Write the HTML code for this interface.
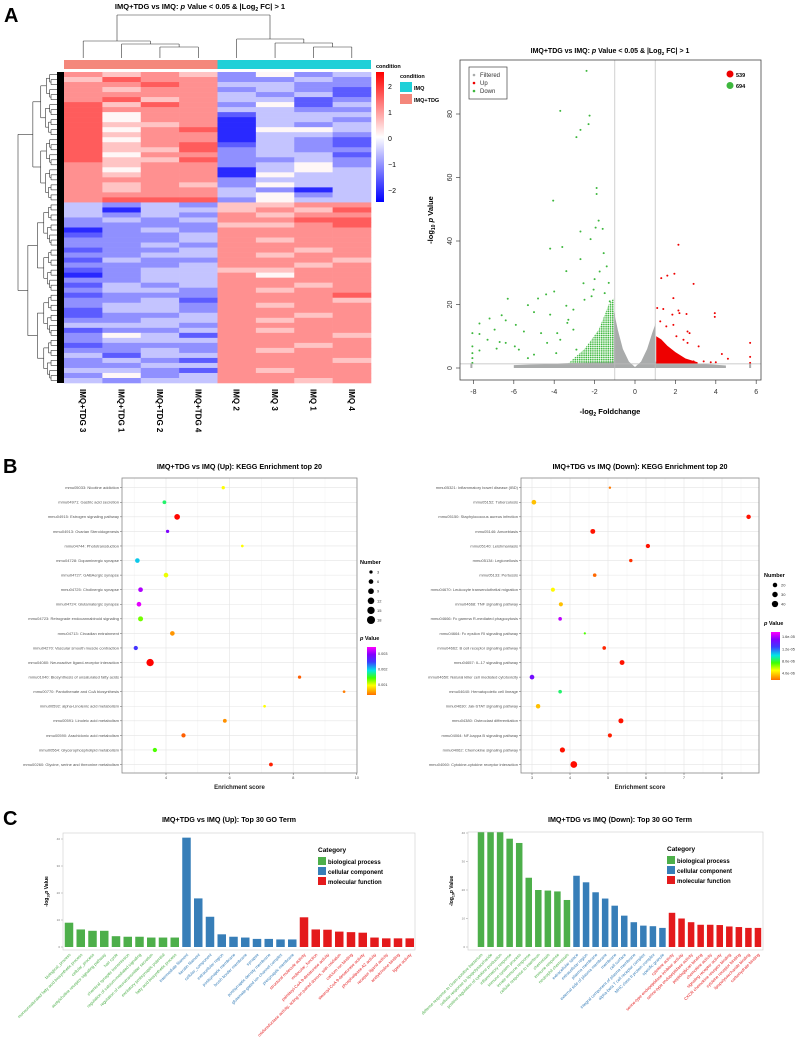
<!DOCTYPE html>
<html><head><meta charset="utf-8"><style>
html,body{margin:0;padding:0;background:#fff;}
svg{display:block;font-family:"Liberation Sans",Arial,sans-serif;}
</style></head><body>
<svg id="fig" width="800" height="1061" viewBox="0 0 800 1061" xmlns="http://www.w3.org/2000/svg">
<defs>
<pattern id="gdots" width="2.2" height="2.2" patternUnits="userSpaceOnUse"><circle cx="1.1" cy="1.1" r="0.85" fill="#3db73d"/></pattern>
</defs>
<rect width="800" height="1061" fill="#fff"/>
<g id="heat"></g>
<g id="volc"></g>
<g id="keggUp"></g>
<g id="keggDown"></g>
<g id="goUp"></g>
<g id="goDown"></g>
<text x="4" y="22" font-size="20" font-weight="bold">A</text>
<text x="3" y="473" font-size="20" font-weight="bold">B</text>
<text x="3" y="825" font-size="20" font-weight="bold">C</text>
</svg>
<script>
// ---------- DATA ----------
const heatColumns = ["IMQ+TDG 3","IMQ+TDG 1","IMQ+TDG 2","IMQ+TDG 4","IMQ 2","IMQ 3","IMQ 1","IMQ 4"];
// each char 0..8 => z-score -2 + 0.5*d
const heatRows = [
"65652423","57662232","66763322","65662321","66663231","67563312","75762413","76663322","74661333","74660332",
"75560323","74670443","75660332","74660321","75671321","75572322","74662331","75572232","65662342","64660343",
"65660433","66662333","65652433","65663203","66663423","67772433",
"32325566","30335657","32326566","23236677","22225567","02326666","12236666","22236566","22326666","12236656",
"22336566","13226665","22236656","12335566","02336466","22336666","13236656","23326566","12226667","22316665",
"23326566","13326666","12236656","22336566","33326666","12236566","24316665","23336666","12226656","22326566",
"31336666","23216665","22336666","33216566","24236666","32336656"];

const volcXTicks = [-8,-6,-4,-2,0,2,4,6];
const volcYTicks = [0,20,40,60,80];
const downX = [-2.4,-3.7,-2.25,-2.3,-2.7,-2.9,-1.9,-1.9,-4.05,-1.8,-2.7,-1.95,-1.6,-2.2,-4.2,-3.6,-3.4,-2.7,-2.55,-6.3,-4.4,-4,-4.8,-5.3,-5,-4.2,-3.4,-6.6,-7.2,-6.4,-7.7,-6.95,-5.9,-5.5,-8.05,-7.7,-7.3,-6.7,-6.4,-6.85,-5.95,-5.75,-7.7,-8.05,-8.05,-8.05,-8.05,-5.3,-5,-4.65,-4.35,-3.9,-3.85,-3.7,-3.35,-3.3,-3.05,-2.9,-3.05,-2.5,-2.15,-2.05,-2,-1.75,-1.55,-1.4,-1.3,-1.5,-1.25];
const downY = [93.6,81,79.5,76.8,75,72.7,56.7,54.8,52.7,46.4,43,44.2,43.8,40.6,37.6,38.1,30.5,34.3,26.7,21.8,23.2,24.1,21.9,19.8,17.6,16.8,19.6,16.6,15.6,15,14,12.1,13.6,11.5,11,10.7,8.9,8.2,7.9,6.1,6.8,5.8,5.5,6.8,4.7,3.1,1.6,3.1,4.2,11,7.9,4.7,11,8.9,14.2,15.2,12.1,5.8,18.4,21.5,22.6,24.7,28,30.4,36.2,32,26.8,23.6,21];
const upX = [2.15,1.3,1.6,1.95,2.9,1.9,1.1,1.4,1.85,2.15,2.2,2.55,3.95,3.95,1.25,1.55,1.9,2.6,2.7,2.05,2.4,2.6,3.15,4.3,4.6,5.7,5.7,5.7,2.9,3.4,3.75,4];
const upY = [38.8,28.3,29.1,29.7,26.5,22,18.9,18.6,16.8,18.1,17.3,17,17.3,16.1,14.7,13.1,13.6,11.5,11,10,8.9,7.9,6.8,4.4,2.9,7.9,3.5,1.6,2.1,2.1,1.8,1.8];
const grayEnvX = [-6,-3,-1.05,-1.05,-0.85,-0.6,-0.3,0,0.3,0.6,0.85,1.02,1.02,3,4.5,4.5,-6];
const grayEnvY = [0.9,1.6,2,18,12,6,2,0.3,2,6,11,14,2,1.5,0.8,0,0];
const greenDenseX = [-3.3,-2.5,-1.8,-1.3,-1.05,-1.05];
const greenDenseY = [1.5,6,12,20,22,1.4];
const redDenseX = [1.05,1.05,1.3,1.6,2,2.5,3.1,3.1];
const redDenseY = [1.4,10,9,7,5,3,1.8,1.4];
const upCount = 539, downCount = 694;

const keggUpTerms = ["mmu05033: Nicotine addiction","mmu04971: Gastric acid secretion","mmu04915: Estrogen signaling pathway","mmu04913: Ovarian Steroidogenesis","mmu04744: Phototransduction","mmu04728: Dopaminergic synapse","mmu04727: GABAergic synapse","mmu04725: Cholinergic synapse","mmu04724: Glutamatergic synapse","mmu04723: Retrograde endocannabinoid signaling","mmu04713: Circadian entrainment","mmu04270: Vascular smooth muscle contraction","mmu04080: Neuroactive ligand-receptor interaction","mmu01040: Biosynthesis of unsaturated fatty acids","mmu00770: Pantothenate and CoA biosynthesis","mmu00592: alpha-Linolenic acid metabolism","mmu00591: Linoleic acid metabolism","mmu00590: Arachidonic acid metabolism","mmu00564: Glycerophospholipid metabolism","mmu00260: Glycine, serine and threonine metabolism"];
const keggUpScore = [5.8,3.95,4.35,4.05,6.4,3.1,4.0,3.2,3.15,3.2,4.2,3.05,3.5,8.2,9.6,7.1,5.85,4.55,3.65,7.3];
const keggUpNumber = [3,4,9,3,2,6,6,6,6,7,6,5,15,3,2,2,4,5,5,4];
const keggUpP = [0.00095,0.00165,0.00002,0.0029,0.00095,0.002,0.001,0.0031,0.0033,0.0013,0.0005,0.0025,0.00001,0.0003,0.0004,0.00095,0.00048,0.0003,0.0014,0.0001];
const keggUpTicks = [4,6,8,10];
const numUpLegend = [3,6,9,12,15,18];
const pUpLegend = [0.001,0.002,0.003];

const keggDownTerms = ["mmu05321: Inflammatory bowel disease (IBD)","mmu05152: Tuberculosis","mmu05150: Staphylococcus aureus infection","mmu05146: Amoebiasis","mmu05140: Leishmaniasis","mmu05134: Legionellosis","mmu05133: Pertussis","mmu04670: Leukocyte transendothelial migration","mmu04668: TNF signaling pathway","mmu04666: Fc gamma R-mediated phagocytosis","mmu04664: Fc epsilon RI signaling pathway","mmu04662: B cell receptor signaling pathway","mmu04657: IL-17 signaling pathway","mmu04650: Natural killer cell mediated cytotoxicity","mmu04640: Hematopoietic cell lineage","mmu04630: Jak-STAT signaling pathway","mmu04380: Osteoclast differentiation","mmu04064: NF-kappa B signaling pathway","mmu04062: Chemokine signaling pathway","mmu04060: Cytokine-cytokine receptor interaction"];
const keggDownScore = [5.05,3.05,8.7,4.6,6.05,5.6,4.65,3.55,3.76,3.74,4.39,4.9,5.37,3.0,3.74,3.16,5.34,5.05,3.8,4.1];
const keggDownNumber = [6,22,20,24,18,12,13,17,17,13,5,13,24,22,13,20,25,17,27,45];
const keggDownP = [0.000002,0.0000035,0.0000003,0.0000003,0.0000003,0.0000008,0.0000017,0.0000048,0.0000035,0.0000162,0.0000072,0.0000006,0.0000003,0.0000145,0.0000085,0.0000035,0.0000003,0.0000005,0.0000003,0.0000002];
const keggDownTicks = [3,4,5,6,7,8];
const numDownLegend = [20,30,40];
const pDownLegend = [0.000004,0.000008,0.000012,0.000016];
const pDownLegendLbl = ["4.0e-06","8.0e-06","1.2e-05","1.6e-05"];

const goUpTerms = ["biological_process","monounsaturated fatty acid biosynthetic process","cellular_process","acetylcholine receptor signaling pathway","hair cycle","chemical synaptic transmission","regulation of calcium-mediated signaling","regulation of neurotransmitter secretion","excitatory postsynaptic potential","fatty acid biosynthetic process",
"intermediate filament","keratin filament","cellular_component","extracellular region","postsynaptic membrane","brush border membrane","synapse","postsynaptic density membrane","glutamate-gated ion channel complex","presynaptic membrane",
"structural molecule activity","molecular_function","palmitoyl-CoA 9-desaturase activity","oxidoreductase activity, acting on paired donors, with oxidation","calcium ion binding","stearoyl-CoA 9-desaturase activity","phospholipase A2 activity","receptor ligand activity","acetylcholine binding","ligase activity"];
const goUpValues = [9,6.5,6,6,4,3.8,3.8,3.5,3.5,3.5, 40.5,18,11.2,4.7,3.8,3.5,3,3,2.8,2.8, 11,6.5,6.4,5.7,5.5,5.3,3.5,3.2,3.2,3.2];
const goDownTerms = ["defense response to Gram-positive bacterium","cellular response to lipopolysaccharide","positive regulation of cytokine production","inflammatory response","immune system process","innate immune response","cellular response to interferon","chemotaxis","immune response","neutrophil chemotaxis",
"extracellular space","extracellular region","plasma membrane","external side of plasma membrane","membrane","cell surface","integral component of plasma membrane","alpha-beta T cell receptor complex","MHC class II protein complex","specific granule",
"cytokine activity","serine-type endopeptidase inhibitor activity","serine-type endopeptidase activity","peptidoglycan binding","chemokine activity","signaling receptor activity","CXCR chemokine receptor binding","cytokine receptor binding","lipopolysaccharide binding","carbohydrate binding"];
const goDownValues = [41,41,41,38,36.5,24.3,20,19.8,19.5,16.5, 25,22.7,19.2,17,14.5,11,8.7,7.5,7.3,6.7, 12,10,8.7,7.8,7.8,7.7,7.2,7,6.7,6.7];
const goCategory = ["biological process","cellular component","molecular function"];
const goTicks = [0,10,20,30,40];

// ---------- HELPERS ----------
const NS="http://www.w3.org/2000/svg";
function mk(parent, tag, attrs, txt){
  const e=document.createElementNS(NS,tag);
  for(const k in attrs) e.setAttribute(k,attrs[k]);
  if(txt!==undefined) e.textContent=txt;
  parent.appendChild(e); return e;
}
const catColors=["#4daf4a","#377eb8","#e41a1c"];
function lerp(a,b,t){return a+(b-a)*t;}
function heatColor(v){
  const t=Math.max(-1,Math.min(1,v/2.2));
  let r,g,b;
  if(t>=0){r=255;g=Math.round(255*(1-t)*0.97+20*t);b=g;} else {b=255;r=Math.round(255*(1+t)*0.97+20*-t);g=r;}
  return `rgb(${r},${g},${b})`;
}
const rainbowStops=[[0,[255,0,0]],[0.12,[255,128,0]],[0.28,[255,255,0]],[0.42,[64,255,0]],[0.56,[0,230,230]],[0.72,[60,60,255]],[0.86,[130,0,255]],[1,[255,0,255]]];
function rainbow(t){
  t=Math.max(0,Math.min(1,t));
  for(let i=1;i<rainbowStops.length;i++){
    if(t<=rainbowStops[i][0]){
      const a=rainbowStops[i-1],b=rainbowStops[i];const u=(t-a[0])/(b[0]-a[0]);
      return `rgb(${Math.round(lerp(a[1][0],b[1][0],u))},${Math.round(lerp(a[1][1],b[1][1],u))},${Math.round(lerp(a[1][2],b[1][2],u))})`;
    }
  }
  return "rgb(255,0,255)";
}

// ---------- HEATMAP ----------
(function(){
  const g=document.getElementById('heat');
  const X0=64,X1=371,Y0=72,Y1=383;
  const cw=(X1-X0)/heatColumns.length, rh=(Y1-Y0)/heatRows.length;
  const title=mk(g,'text',{x:200,y:9,'font-size':7.5,'font-weight':'bold','text-anchor':'middle'});
  
  
  title.innerHTML='IMQ+TDG vs IMQ: <tspan font-style="italic">p</tspan> Value &lt; 0.05 &amp; |Log<tspan font-size="5" dy="2">2</tspan><tspan dy="-2"> FC| &gt; 1</tspan>';
  heatRows.forEach((row,ri)=>{
    for(let ci=0;ci<heatColumns.length;ci++){
      const v=-2+0.5*parseInt(row[ci]);
      const r=mk(g,'rect',{x:X0+ci*cw,y:Y0+ri*rh,width:cw+0.3,height:rh+0.3,fill:heatColor(v)});
      
      
    }
  });
  const a1=mk(g,'rect',{x:X0,y:60,width:cw*4,height:9,fill:'#f4877b'});
  
  
  const a2=mk(g,'rect',{x:X0+cw*4,y:60,width:cw*4,height:9,fill:'#1fd0d8'});
  
  
  const cx=i=>X0+(i+0.5)*cw;
  const dl=(x1,y1,x2,y2)=>mk(g,'line',{x1,y1,x2,y2,stroke:'#333','stroke-width':0.6});
  function cl(xa,xb,ya,yb,h){dl(xa,ya,xa,h);dl(xb,yb,xb,h);dl(xa,h,xb,h);}
  cl(cx(2),cx(3),58,58,47); cl(cx(1),(cx(2)+cx(3))/2,58,47,44); cl(cx(0),(cx(1)+(cx(2)+cx(3))/2)/2,58,44,41);
  cl(cx(6),cx(7),58,58,47); cl(cx(5),(cx(6)+cx(7))/2,58,47,43); cl(cx(4),(cx(5)+(cx(6)+cx(7))/2)/2,58,43,39);
  cl(117,270,41,39,15);
  mk(g,'rect',{x:57,y:Y0,width:7,height:Y1-Y0,fill:'#000'});
  function tree(a,b,depth){
    const n=b-a; const yc=Y0+((a+b)/2)*rh;
    if(n<=1) return {y:yc,x:57};
    const m=Math.floor((a+b)/2);
    const L=tree(a,m,depth+1),R=tree(m,b,depth+1);
    const x=Math.max(18,57-Math.pow(n/heatRows.length,0.6)*39-1);
    dl(L.x,L.y,x,L.y);dl(R.x,R.y,x,R.y);dl(x,L.y,x,R.y);
    return {y:(L.y+R.y)/2,x:x};
  }
  const t1=tree(0,26,1),t2=tree(26,heatRows.length,1);
  dl(t1.x,t1.y,18,t1.y);dl(t2.x,t2.y,18,t2.y);dl(18,t1.y,18,t2.y);
  heatColumns.forEach((c,i)=>{
    const t=mk(g,'text',{x:0,y:0,'font-size':8,'font-weight':'bold',transform:`translate(${cx(i)-3},389) rotate(90)`},c);
    
    
  });
  const defs=mk(g,'defs',{});
  const lg=mk(defs,'linearGradient',{id:'hk',x1:0,y1:0,x2:0,y2:1});
  [[0,'#ff0000'],[0.5,'#ffffff'],[1,'#0000ff']].forEach(s=>mk(lg,'stop',{offset:s[0],'stop-color':s[1]}));
  const ck=mk(g,'rect',{x:376,y:72,width:8,height:130,fill:'url(#hk)'});
  
  
  [["2",86],["1",112],["0",138],["\u22121",164],["\u22122",190]].forEach(l=>mk(g,'text',{x:388,y:l[1]+3,'font-size':7},l[0]));
  mk(g,'text',{x:376,y:68,'font-size':5.5,'font-weight':'bold'},'condition');
  mk(g,'text',{x:400,y:78,'font-size':5.5,'font-weight':'bold'},'condition');
  mk(g,'rect',{x:400,y:82,width:12,height:10,fill:'#1fd0d8'});
  mk(g,'rect',{x:400,y:94,width:12,height:10,fill:'#f4877b'});
  mk(g,'text',{x:414,y:90,'font-size':5.5,'font-weight':'bold'},'IMQ');
  mk(g,'text',{x:414,y:102,'font-size':5.5,'font-weight':'bold'},'IMQ+TDG');
})();

// ---------- VOLCANO ----------
(function(){
  const g=document.getElementById('volc');
  const BX0=460,BX1=761,BY0=60,BY1=380;
  const sx=v=>635+v*20.2, sy=v=>368-v*3.175;
  const t=mk(g,'text',{x:610,y:53,'font-size':7,'font-weight':'bold','text-anchor':'middle'});
  
  
  t.innerHTML='IMQ+TDG vs IMQ: <tspan font-style="italic">p</tspan> Value &lt; 0.05 &amp; |Log<tspan font-size="4.5" dy="2">2</tspan><tspan dy="-2"> FC| &gt; 1</tspan>';
  mk(g,'polygon',{points:grayEnvX.map((x,i)=>sx(x)+','+sy(grayEnvY[i])).join(' '),fill:'#a9abab'});
  mk(g,'line',{x1:sx(-8.1),x2:sx(-8.1),y1:sy(0),y2:sy(1.5),stroke:'#a9abab','stroke-width':2});
  mk(g,'line',{x1:sx(5.7),x2:sx(5.7),y1:sy(0),y2:sy(1.5),stroke:'#a9abab','stroke-width':2});
  mk(g,'polygon',{points:greenDenseX.map((x,i)=>sx(x)+','+sy(greenDenseY[i])).join(' '),fill:'url(#gdots)'});
  mk(g,'polygon',{points:redDenseX.map((x,i)=>sx(x)+','+sy(redDenseY[i])).join(' '),fill:'#ee0000'});
  downX.forEach((x,i)=>{const c=mk(g,'circle',{cx:sx(x),cy:sy(downY[i]),r:1,fill:'#3db73d'});
    
    });
  upX.forEach((x,i)=>{const c=mk(g,'circle',{cx:sx(x),cy:sy(upY[i]),r:1,fill:'#ee0000'});
    
    });
  mk(g,'line',{x1:sx(-1),x2:sx(-1),y1:BY0,y2:BY1,stroke:'#bbb','stroke-width':0.7});
  mk(g,'line',{x1:sx(1),x2:sx(1),y1:BY0,y2:BY1,stroke:'#bbb','stroke-width':0.7});
  mk(g,'line',{x1:BX0,x2:BX1,y1:sy(1.3),y2:sy(1.3),stroke:'#bbb','stroke-width':0.7});
  const box=mk(g,'rect',{x:BX0,y:BY0,width:BX1-BX0,height:BY1-BY0,fill:'none',stroke:'#444','stroke-width':0.8});
  
  
  volcXTicks.forEach(v=>{mk(g,'line',{x1:sx(v),x2:sx(v),y1:BY1,y2:BY1+4,stroke:'#444','stroke-width':0.7});
    mk(g,'text',{x:sx(v),y:BY1+14,'font-size':7,'text-anchor':'middle',fill:'#333'},String(v));});
  volcYTicks.forEach(v=>{mk(g,'line',{x1:BX0-4,x2:BX0,y1:sy(v),y2:sy(v),stroke:'#444','stroke-width':0.7});
    mk(g,'text',{x:0,y:0,'font-size':7,'text-anchor':'middle',fill:'#333',transform:`translate(${BX0-8},${sy(v)}) rotate(-90)`},String(v));});
  const xl=mk(g,'text',{x:610,y:414,'font-size':7.5,'font-weight':'bold','text-anchor':'middle'});
  
  
  xl.innerHTML='-log<tspan font-size="5" dy="2">2</tspan><tspan dy="-2"> Foldchange</tspan>';
  const yl=mk(g,'text',{x:0,y:0,'font-size':7.5,'font-weight':'bold','text-anchor':'middle',transform:'translate(433,220) rotate(-90)'});
  
  
  yl.innerHTML='-log<tspan font-size="5" dy="2">10</tspan><tspan dy="-2"> </tspan><tspan font-style="italic">p</tspan> Value';
  const lg=mk(g,'rect',{x:469,y:67,width:38,height:32,fill:'#fff',stroke:'#444','stroke-width':0.7});
  
  
  [['Filtered','#a9abab',75],['Up','#ee0000',83],['Down','#3db73d',91]].forEach(e=>{
    mk(g,'circle',{cx:474,cy:e[2],r:1.3,fill:e[1]});
    mk(g,'text',{x:480,y:e[2]+2,'font-size':6,fill:'#333'},e[0]);
  });
  mk(g,'circle',{cx:730,cy:74,r:3.5,fill:'#ee0000'});
  mk(g,'text',{x:736,y:77,'font-size':5.5,'font-weight':'bold'},String(upCount));
  mk(g,'circle',{cx:730,cy:85.5,r:3.5,fill:'#3db73d'});
  mk(g,'text',{x:736,y:88,'font-size':5.5,'font-weight':'bold'},String(downCount));
})();

// ---------- KEGG ----------
function kegg(gid,opt){
  const g=document.getElementById(gid);
  const {BX0,BX1,BY0,BY1,x0val,x0px,unit,ticks,minor,terms,score,num,pv,pmax,rfn,title,legX,numLeg,pLeg,pLegLbl,numY,pY}=opt;
  const sx=v=>x0px+(v-x0val)*unit;
  const rowY=i=>487.7+i*14.57;
  const t=mk(g,'text',{x:(BX0+BX1)/2,y:469,'font-size':7.2,'font-weight':'bold','text-anchor':'middle'},title);
  
  
  mk(g,'rect',{x:BX0,y:BY0,width:BX1-BX0,height:BY1-BY0,fill:'#fff'});
  minor.forEach(v=>mk(g,'line',{x1:sx(v),x2:sx(v),y1:BY0,y2:BY1,stroke:'#f2f2f2','stroke-width':0.5}));
  ticks.forEach(v=>mk(g,'line',{x1:sx(v),x2:sx(v),y1:BY0,y2:BY1,stroke:'#e4e4e4','stroke-width':0.6}));
  terms.forEach((tm,i)=>{
    mk(g,'line',{x1:BX0,x2:BX1,y1:rowY(i),y2:rowY(i),stroke:'#e4e4e4','stroke-width':0.6});
    mk(g,'line',{x1:BX0-2,x2:BX0,y1:rowY(i),y2:rowY(i),stroke:'#555','stroke-width':0.5});
    const l=mk(g,'text',{x:BX0-3,y:rowY(i)+1.4,'font-size':4,'text-anchor':'end',fill:'#555'},tm);
    
    
  });
  terms.forEach((tm,i)=>{
    const c=mk(g,'circle',{cx:sx(score[i]),cy:rowY(i),r:rfn(num[i]),fill:rainbow(pv[i]/pmax)});
    
    
  });
  const box=mk(g,'rect',{x:BX0,y:BY0,width:BX1-BX0,height:BY1-BY0,fill:'none',stroke:'#888','stroke-width':0.8});
  
  
  ticks.forEach(v=>{mk(g,'line',{x1:sx(v),x2:sx(v),y1:BY1,y2:BY1+2,stroke:'#555','stroke-width':0.5});
    mk(g,'text',{x:sx(v),y:BY1+6,'font-size':4,'text-anchor':'middle',fill:'#555'},String(v));});
  const xl=mk(g,'text',{x:(BX0+BX1)/2,y:BY1+16,'font-size':6,'font-weight':'bold','text-anchor':'middle',fill:'#222'},'Enrichment score');
  
  
  mk(g,'text',{x:legX,y:numY,'font-size':5.5,'font-weight':'bold'},'Number');
  numLeg.forEach((n,i)=>{const yy=numY+8+i*(numLeg.length>3?9.6:9.5);
    mk(g,'circle',{cx:legX+11,cy:yy,r:rfn(n),fill:'#000'});
    mk(g,'text',{x:legX+17,y:yy+1.5,'font-size':4,fill:'#333'},String(n));});
  const pt=mk(g,'text',{x:legX,y:pY,'font-size':5.5,'font-weight':'bold'});
  pt.innerHTML='<tspan font-style="italic">p</tspan> Value';
  const gid2='grad'+gid;
  const defs=mk(g,'defs',{});
  const lg=mk(defs,'linearGradient',{id:gid2,x1:0,y1:1,x2:0,y2:0});
  mk(lg,'stop',{offset:0,'stop-color':rainbow(0.1)});
  rainbowStops.filter(s=>s[0]>=0.1).forEach(s=>mk(lg,'stop',{offset:(s[0]-0.1)/0.9,'stop-color':rainbow(s[0])}));
  const cb0=pY+7,cb1=pY+55;
  const cb=mk(g,'rect',{x:legX+7,y:cb0,width:9,height:cb1-cb0,fill:`url(#${gid2})`});
  
  
  pLeg.forEach((p,i)=>{const tt=p/pmax; const yy=cb1-(tt-0.1)/0.9*(cb1-cb0);
    mk(g,'text',{x:legX+18,y:yy+1.5,'font-size':3.8,fill:'#333'},pLegLbl?pLegLbl[i]:String(p));});
}
kegg('keggUp',{BX0:122,BX1:357,BY0:478,BY1:773,x0val:4,x0px:166,unit:31.8,ticks:keggUpTicks,minor:[3,5,7,9],
  terms:keggUpTerms,score:keggUpScore,num:keggUpNumber,pv:keggUpP,pmax:0.0034,rfn:n=>0.95*Math.sqrt(n),
  title:'IMQ+TDG vs IMQ (Up): KEGG Enrichment top 20',legX:360,numLeg:numUpLegend,pLeg:pUpLegend,numY:564,pY:640});
kegg('keggDown',{BX0:521,BX1:759,BY0:478,BY1:773,x0val:3,x0px:532,unit:38,ticks:keggDownTicks,minor:[3.5,4.5,5.5,6.5,7.5,8.5],
  terms:keggDownTerms,score:keggDownScore,num:keggDownNumber,pv:keggDownP,pmax:0.0000175,rfn:n=>0.5*Math.sqrt(n),
  title:'IMQ+TDG vs IMQ (Down): KEGG Enrichment top 20',legX:764,numLeg:numDownLegend,pLeg:pDownLegend,pLegLbl:pDownLegendLbl,numY:577,pY:625});

// ---------- GO ----------
function go(gid,opt){
  const g=document.getElementById(gid);
  const {BX0,BX1,BY0,BY1,zeroY,perUnit,first,step,bw,terms,vals,title,legX,legY}=opt;
  const sy=v=>zeroY-v*perUnit;
  const t=mk(g,'text',{x:opt.titleX,y:822,'font-size':7.2,'font-weight':'bold','text-anchor':'middle'},title);
  
  
  goTicks.forEach(v=>{mk(g,'line',{x1:BX0-2,x2:BX0,y1:sy(v),y2:sy(v),stroke:'#777','stroke-width':0.4});
    mk(g,'text',{x:BX0-3,y:sy(v)+1,'font-size':3,'text-anchor':'end',fill:'#777'},String(v));});
  const defs=mk(g,'defs',{});
  const clip=mk(defs,'clipPath',{id:'clip'+gid});
  mk(clip,'rect',{x:BX0,y:BY0,width:BX1-BX0,height:BY1-BY0});
  vals.forEach((v,i)=>{
    const cx=first+i*step, col=catColors[Math.floor(i/10)];
    const b=mk(g,'rect',{x:cx-bw/2,y:sy(v),width:bw,height:zeroY-sy(v),fill:col,'clip-path':`url(#clip${gid})`});
    
    
    const l=mk(g,'text',{x:0,y:0,'font-size':4.2,'text-anchor':'end',fill:col,transform:`translate(${cx+2},${BY1+5}) rotate(-45)`},terms[i]);
    
    
  });
  const box=mk(g,'rect',{x:BX0,y:BY0,width:BX1-BX0,height:BY1-BY0,fill:'none',stroke:'#ccc','stroke-width':0.6});
  
  
  const yl=mk(g,'text',{x:0,y:0,'font-size':5,'font-weight':'bold','text-anchor':'middle',transform:`translate(${BX0-15},${(BY0+BY1)/2}) rotate(-90)`});
  
  
  yl.innerHTML='-log<tspan font-size="3.5" dy="1.5">10</tspan><tspan dy="-1.5" font-style="italic">p</tspan> Value';
  mk(g,'text',{x:legX,y:legY,'font-size':6.5,'font-weight':'bold'},'Category');
  goCategory.forEach((c,i)=>{
    const r=mk(g,'rect',{x:legX,y:legY+5+i*10,width:8,height:8,fill:catColors[i]});
    
    
    const tt=mk(g,'text',{x:legX+10,y:legY+12+i*10,'font-size':6,'font-weight':'bold'},c);
    
    
  });
}
go('goUp',{BX0:63,BX1:415,BY0:833,BY1:950,zeroY:947,perUnit:2.7,first:69,step:11.75,bw:8.5,terms:goUpTerms,vals:goUpValues,
  title:'IMQ+TDG vs IMQ (Up): Top 30 GO Term',titleX:229,legX:318,legY:852});
go('goDown',{BX0:468,BX1:763,BY0:832,BY1:950,zeroY:947,perUnit:2.85,first:481,step:9.55,bw:6.5,terms:goDownTerms,vals:goDownValues,
  title:'IMQ+TDG vs IMQ (Down): Top 30 GO Term',titleX:620,legX:667,legY:851});
</script>
</body></html>
